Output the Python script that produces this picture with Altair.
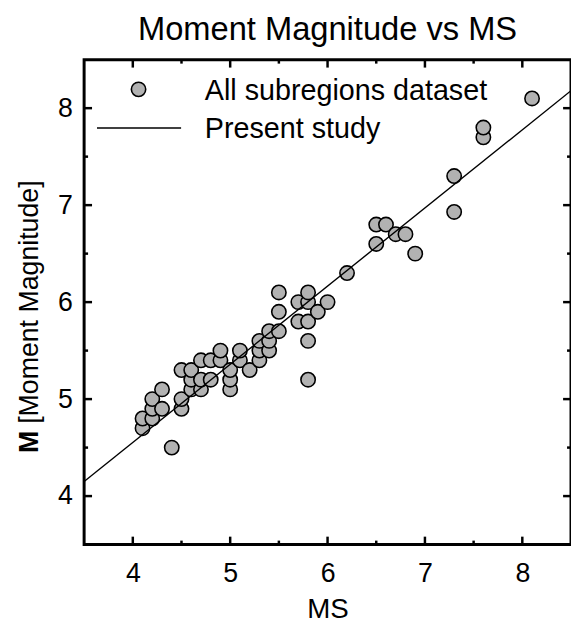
import altair as alt
import pandas as pd

# Data
ms = [4.1, 4.1, 4.2, 4.2, 4.2, 4.3, 4.3, 4.4, 4.5, 4.5, 4.5, 4.6, 4.6, 4.6,
      4.7, 4.7, 4.7, 4.8, 4.8, 4.9, 4.9, 5.0, 5.0, 5.0, 5.1, 5.1, 5.2, 5.3,
      5.3, 5.3, 5.4, 5.4, 5.4, 5.5, 5.5, 5.5, 5.7, 5.7, 5.8, 5.8, 5.8, 5.8,
      5.8, 5.9, 6.0, 6.2, 6.5, 6.5, 6.6, 6.7, 6.8, 6.9, 7.3, 7.3, 7.6, 7.6, 8.1]
mw = [4.7, 4.8, 4.8, 4.9, 5.0, 4.9, 5.1, 4.5, 4.9, 5.0, 5.3, 5.1, 5.2, 5.3,
      5.1, 5.2, 5.4, 5.2, 5.4, 5.4, 5.5, 5.1, 5.2, 5.3, 5.4, 5.5, 5.3, 5.4,
      5.5, 5.6, 5.5, 5.6, 5.7, 5.7, 5.9, 6.1, 5.8, 6.0, 5.2, 5.6, 5.8, 6.0,
      6.1, 5.9, 6.0, 6.3, 6.6, 6.8, 6.8, 6.7, 6.7, 6.5, 6.93, 7.3, 7.7, 7.8, 8.1]

# Present-study relation endpoints
fit_ms = [3.5, 8.5]
fit_mw = [4.15, 8.18]

major_ticks = [4, 5, 6, 7, 8]
minor_ticks = [4.5, 5.5, 6.5, 7.5]

W, H = 492, 490
FONT = "Liberation Sans"
DOM = [3.5, 8.5]

pts = pd.DataFrame({"MS": ms, "M": mw})
fit = pd.DataFrame({"MS": fit_ms, "M": fit_mw})
maj = pd.DataFrame({"v": major_ticks})
mnr = pd.DataFrame({"v": minor_ticks})

xs = alt.Scale(domain=DOM, nice=False, zero=False)
ys = alt.Scale(domain=DOM, nice=False, zero=False)

xaxis = alt.Axis(values=major_ticks, format="d", ticks=False, domain=False, grid=False,
                 labelFont=FONT, labelFontSize=27, labelColor="black",
                 labelPadding=16, title="MS", titleFont=FONT, titleFontSize=28,
                 titleFontWeight="normal", titleColor="black", titlePadding=10)
yaxis = alt.Axis(values=major_ticks, format="d", ticks=False, domain=False, grid=False,
                 labelFont=FONT, labelFontSize=27, labelColor="black",
                 labelPadding=12, title=None)

points = alt.Chart(pts).mark_circle(size=210, color="#b2b2b2", stroke="black",
                                    strokeWidth=1.6, opacity=1).encode(
    x=alt.X("MS:Q", scale=xs, axis=xaxis),
    y=alt.Y("M:Q", scale=ys, axis=yaxis),
)

line = alt.Chart(fit).mark_line(color="black", strokeWidth=1.4, clip=True).encode(
    x=alt.X("MS:Q", scale=xs), y=alt.Y("M:Q", scale=ys)
)

def xticks(df, length, top):
    if top:
        return alt.Chart(df).mark_rule(color="black", strokeWidth=2.5).encode(
            x=alt.X("v:Q", scale=xs), y=alt.value(0), y2=alt.value(length))
    return alt.Chart(df).mark_rule(color="black", strokeWidth=2.5).encode(
        x=alt.X("v:Q", scale=xs), y=alt.value(H), y2=alt.value(H - length))

def yticks(df, length, right):
    if right:
        return alt.Chart(df).mark_rule(color="black", strokeWidth=2.5).encode(
            y=alt.Y("v:Q", scale=ys), x=alt.value(W), x2=alt.value(W - length))
    return alt.Chart(df).mark_rule(color="black", strokeWidth=2.5).encode(
        y=alt.Y("v:Q", scale=ys), x=alt.value(0), x2=alt.value(length))

ticks = [xticks(maj, 8, False), xticks(mnr, 4, False), xticks(maj, 8, True),
         xticks(mnr, 4, True), yticks(maj, 8, False), yticks(mnr, 4, False),
         yticks(maj, 8, True), yticks(mnr, 4, True)]

leg = pd.DataFrame({"k": [0]})
leg_pt = alt.Chart(leg).mark_circle(size=210, color="#b2b2b2", stroke="black",
                                    strokeWidth=1.6, opacity=1).encode(
    x=alt.value(55), y=alt.value(30))
leg_ln = alt.Chart(leg).mark_rule(color="black", strokeWidth=1.4).encode(
    x=alt.value(13), x2=alt.value(98), y=alt.value(69))
leg_t1 = alt.Chart(leg).mark_text(text="All subregions dataset", font=FONT, fontSize=29,
                                  align="left", baseline="middle", color="black").encode(
    x=alt.value(122), y=alt.value(32))
leg_t2 = alt.Chart(leg).mark_text(text="Present study", font=FONT, fontSize=29,
                                  align="left", baseline="middle", color="black").encode(
    x=alt.value(122), y=alt.value(70))

ytitle_b = alt.Chart(leg).mark_text(text="M", font=FONT, fontSize=27, fontWeight="bold",
                                    angle=270, align="right", baseline="middle",
                                    color="black").encode(
    x=alt.value(-55), y=alt.value(375))
ytitle_n = alt.Chart(leg).mark_text(text="[Moment Magnitude]", font=FONT, fontSize=27,
                                    angle=270, align="left", baseline="middle",
                                    color="black").encode(
    x=alt.value(-55), y=alt.value(368))

chart = alt.layer(points, line, *ticks, leg_pt, leg_ln, leg_t1, leg_t2,
                  ytitle_b, ytitle_n).properties(
    width=W, height=H,
    background="white",
    title=alt.TitleParams("Moment Magnitude vs MS", font=FONT, fontSize=33,
                          fontWeight="normal", color="black", anchor="middle",
                          offset=12),
    autosize=alt.AutoSizeParams(type="none"),
    padding={"left": 85, "top": 57, "right": 0, "bottom": 80},
).configure_view(stroke="black", strokeWidth=3)

chart.save("out.html", embed_options={"renderer": "svg", "actions": False})
